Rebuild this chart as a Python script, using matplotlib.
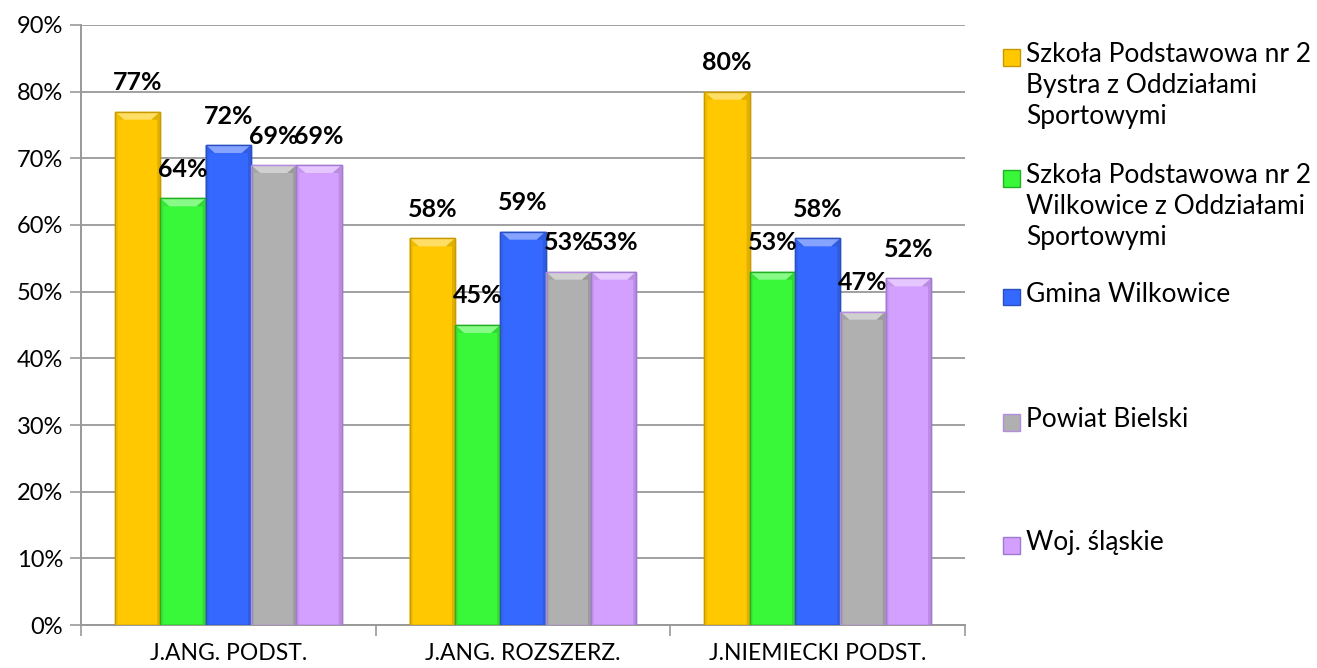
import matplotlib
matplotlib.use("Agg")
import matplotlib.pyplot as plt
import numpy as np
from matplotlib.patches import Polygon, Rectangle
from matplotlib.colors import to_rgb

categories = ["J.ANG. PODST.", "J.ANG. ROZSZERZ.", "J.NIEMIECKI PODST."]
series_names = [
    "Szkoła Podstawowa nr 2\nBystra z Oddziałami\nSportowymi",
    "Szkoła Podstawowa nr 2\nWilkowice z Oddziałami\nSportowymi",
    "Gmina Wilkowice",
    "Powiat Bielski",
    "Woj. śląskie",
]
sp_bystra = [0.77, 0.58, 0.80]
sp_wilkowice = [0.64, 0.45, 0.53]
gmina = [0.72, 0.59, 0.58]
powiat = [0.69, 0.53, 0.47]
woj = [0.69, 0.53, 0.52]
series_values = [sp_bystra, sp_wilkowice, gmina, powiat, woj]
y_ticks = [0.0, 0.1, 0.2, 0.3, 0.4, 0.5, 0.6, 0.7, 0.8, 0.9]

fills = ["#FFC800", "#39F739", "#3568FF", "#B0B0B0", "#D3A0FF"]
edges = ["#C89A00", "#22B022", "#2A4FC0", "#B48CE0", "#A07AD0"]

FONT = ["Lato", "DejaVu Sans"]
plt.rcParams["font.family"] = FONT

fig = plt.figure(figsize=(13.17, 6.68), dpi=100)
ax = fig.add_axes([81 / 1317, 43 / 668, (965 - 81) / 1317, 600 / 668])

n = len(series_values)
w = 1.0 / (n + 1.5)
x = np.arange(len(categories))

ppx = (965 - 81) / 3.0  # pixels per x unit
ppy = 600 / 0.9         # pixels per y unit

def lighten(c, f):
    r, g, b = to_rgb(c)
    return (r + (1 - r) * f, g + (1 - g) * f, b + (1 - b) * f)

def darken(c, f):
    r, g, b = to_rgb(c)
    return (r * (1 - f), g * (1 - f), b * (1 - f))

for i, vals in enumerate(series_values):
    bars = ax.bar(x + (i - (n - 1) / 2) * w, vals, width=w, color=fills[i],
                  edgecolor=edges[i], linewidth=1.0, zorder=3)
    for b, v in zip(bars, vals):
        x0, bw, h = b.get_x(), b.get_width(), b.get_height()
        dx = 9 / ppx
        dy = 8 / ppy
        top = Polygon([(x0, h), (x0 + bw, h), (x0 + bw - dx, h - dy), (x0 + dx, h - dy)],
                      closed=True, facecolor=lighten(fills[i], 0.4), edgecolor="none", zorder=4)
        ax.add_patch(top)
        sdx = 3 / ppx
        ax.add_patch(Polygon([(x0 + bw, h), (x0 + bw - dx, h - dy), (x0 + bw - sdx, h - dy), (x0 + bw - sdx, 0), (x0 + bw, 0)],
                             closed=True, facecolor=darken(fills[i], 0.12), edgecolor="none", zorder=4))
        ax.add_patch(Polygon([(x0, h), (x0 + dx, h - dy), (x0 + sdx, h - dy), (x0 + sdx, 0), (x0, 0)],
                             closed=True, facecolor=darken(fills[i], 0.06), edgecolor="none", zorder=4))
        ax.add_patch(Rectangle((x0, 0), bw, h, facecolor="none", edgecolor=edges[i], linewidth=1.0, zorder=5))
        ax.annotate(f"{round(v * 100)}%", (x0 + bw / 2, h), xytext=(0, 29), textcoords="offset pixels",
                    ha="center", va="center", fontsize=18, fontweight="bold", color="black", zorder=6)

ax.set_xlim(-0.5, 2.5)
ax.set_ylim(0, 0.9)
ax.set_yticks(y_ticks)
ax.set_yticklabels([f"{round(t * 100)}%" for t in y_ticks], fontsize=17)
ax.set_xticks(x)
ax.set_xticklabels(categories, fontsize=16.5)
ax.set_xticks([-0.5, 0.5, 1.5, 2.5], minor=True)
ax.tick_params(axis="x", which="major", length=0, pad=13)
ax.tick_params(axis="x", which="minor", length=8, width=1.2, color="#999999")
ax.tick_params(axis="y", length=8, width=1.2, color="#999999", pad=5)
ax.grid(axis="y", color="#A0A0A0", linewidth=1.4, zorder=0)
ax.set_axisbelow(True)
for s in ["top", "right"]:
    ax.spines[s].set_visible(False)
for s in ["left", "bottom"]:
    ax.spines[s].set_color("#999999")
    ax.spines[s].set_linewidth(1.4)

# legend drawn manually to match the Excel layout
leg_y = [57, 178, 297, 422, 545]
for i, name in enumerate(series_names):
    yc = 1 - leg_y[i] / 668
    sq = 17
    fig.patches.append(Rectangle((1003 / 1317, yc - sq / 2 / 668), sq / 1317, sq / 668,
                                 transform=fig.transFigure, facecolor=fills[i],
                                 edgecolor=edges[i], linewidth=1.0))
    fig.text(1026 / 1317, yc + 15 / 668, name, ha="left", va="top", fontsize=19,
             linespacing=1.3, color="black")

fig.savefig("out.png", dpi=100)
